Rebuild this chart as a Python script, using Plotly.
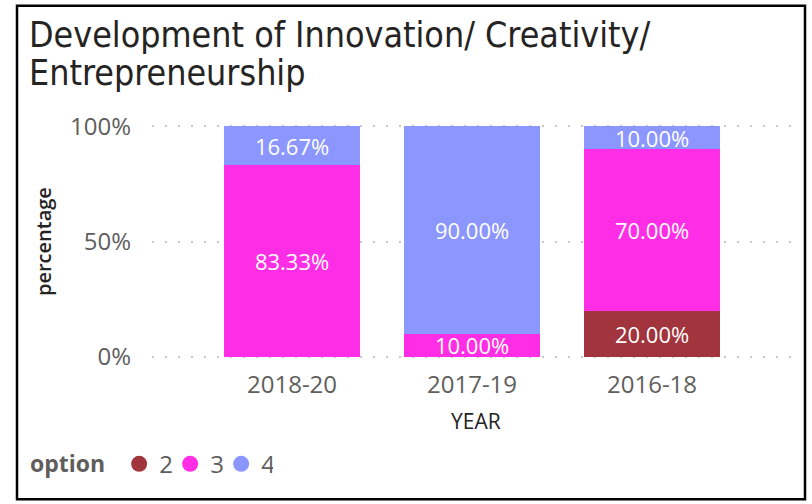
import plotly.graph_objects as go

years = ["2018-20", "2017-19", "2016-18"]
options = ["2", "3", "4"]
values = {
    "2": [None, None, 20.0],
    "3": [83.33, 10.0, 70.0],
    "4": [16.67, 90.0, 10.0],
}
colors = {"2": "#A1343C", "3": "#FF2DE6", "4": "#8B96FE"}
y_ticks = [0, 50, 100]
y_tick_labels = ["0%", "50%", "100%"]
title_lines = ["Development of Innovation/ Creativity/", "Entrepreneurship"]

W, H = 812, 504
# plot geometry in pixels
y0_px, y100_px = 357, 126
pad = 0.6
ppu = (y0_px - y100_px) / 100.0
T = y100_px - pad * ppu
B = H - (y0_px + pad * ppu)
L, R = 152, 12
pw, ph = W - L - R, H - T - B

def px2x(px):
    return (px - L) / pw

def py2y(py):
    return (H - B - py) / ph

fig = go.Figure()
for opt in options:
    fig.add_trace(go.Bar(
        x=years, y=values[opt], name=opt, marker_color=colors[opt],
        marker_line_width=0, width=0.756,
        texttemplate="%{y:.2f}%", textposition="inside",
        insidetextanchor="middle", constraintext="none",
        textfont=dict(color="white", size=22, family="Open Sans"),
        showlegend=False, cliponaxis=False,
    ))
    fig.add_trace(go.Scatter(
        x=[None], y=[None], mode="markers", name=opt,
        marker=dict(color=colors[opt], size=22, symbol="circle"),
        showlegend=True,
    ))

annotations = [
    dict(text=title_lines[0], x=px2x(27), y=py2y(34), xref="paper", yref="paper",
         xanchor="left", yanchor="middle", showarrow=False,
         font=dict(family="DejaVu Sans Condensed", size=35.5, color="#252423")),
    dict(text=title_lines[1], x=px2x(27), y=py2y(72), xref="paper", yref="paper",
         xanchor="left", yanchor="middle", showarrow=False,
         font=dict(family="DejaVu Sans Condensed", size=35.5, color="#252423")),
    dict(text="percentage", x=px2x(44), y=py2y(242), xref="paper", yref="paper",
         xanchor="center", yanchor="middle",
         textangle=-90, showarrow=False,
         font=dict(family="Open Sans", size=20, color="#252423", weight=600)),
    dict(text="YEAR", x=px2x(476), y=py2y(422), xref="paper", yref="paper",
         xanchor="center", yanchor="middle",
         showarrow=False,
         font=dict(family="Open Sans", size=21, color="#252423")),
]

fig.update_layout(
    width=W, height=H, barmode="stack",
    margin=dict(l=L, r=R, t=T, b=B, autoexpand=False),
    paper_bgcolor="white", plot_bgcolor="white",
    xaxis=dict(
        range=[-0.778, 2.822], showgrid=False, zeroline=False, showline=False,
        tickfont=dict(family="Open Sans", size=24, color="#605E5C"),
        ticklabelstandoff=10, fixedrange=True, automargin=False,
    ),
    yaxis=dict(
        range=[-pad, 100 + pad], tickvals=y_ticks, ticktext=y_tick_labels,
        showgrid=True, gridcolor="#C8C8C8", gridwidth=1.5, griddash="2px,11px",
        zeroline=False, showline=False,
        tickfont=dict(family="Open Sans", size=24, color="#605E5C"),
        ticklabelstandoff=20, automargin=False,
    ),
    legend=dict(
        orientation="h", x=px2x(28), xanchor="left", y=py2y(465), yanchor="middle",
        traceorder="normal",
        title=dict(text="<b>option</b> ", font=dict(family="Open Sans", size=23, color="#605E5C")),
        font=dict(family="Open Sans", size=24, color="#605E5C"),
        itemwidth=30, tracegroupgap=0, itemsizing="trace",
        entrywidth=6, entrywidthmode="pixels",
    ),
    annotations=annotations,
    shapes=[
        dict(type="rect", xref="paper", yref="paper",
             x0=px2x(17), x1=px2x(805), y0=py2y(500), y1=py2y(5),
             line=dict(color="black", width=2.5), fillcolor="rgba(0,0,0,0)"),
    ],
)

fig.write_html("out.html", config={"displayModeBar": False},
               post_script="document.body.style.margin='0';")
